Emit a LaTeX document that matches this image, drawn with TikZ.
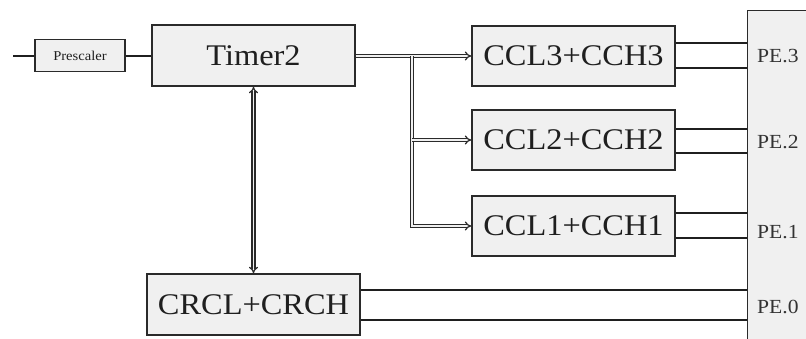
\documentclass[tikz,border=0pt]{standalone}
\usepackage{fontspec}
\setmainfont[FakeStretch=1.08]{Liberation Serif}
\usetikzlibrary{arrows.meta,calc}
\definecolor{boxfill}{HTML}{F0F0F0}
\definecolor{edge}{HTML}{2A2A2A}
\begin{document}
\begin{tikzpicture}[x=1pt,y=-1pt,
  blk/.style={draw=edge,line width=1.8pt,fill=boxfill,rectangle,inner sep=0pt,
    font=\fontsize{30}{32}\selectfont,text=black!88},
  wire/.style={draw=black!88,line width=2pt},
  dbl/.style={draw=edge,line width=1.2pt,double=boxfill,double distance=1.8pt},
  pelab/.style={anchor=west,font=\fontsize{20}{22}\selectfont,text=black!80,inner sep=0pt}]
\useasboundingbox (0,0) rectangle (806,338);
\node[blk,minimum width=90pt,minimum height=32pt,font=\fontsize{13.5}{15}\selectfont] (pre) at (80,55.5) {Prescaler};
\node[blk,minimum width=203pt,minimum height=61pt] (timer) at (253.5,55.5) {Timer2};
\node[blk,minimum width=203pt,minimum height=60pt] (ccl3) at (573.5,56) {CCL3+CCH3};
\node[blk,minimum width=203pt,minimum height=60pt] (ccl2) at (573.5,140) {CCL2+CCH2};
\node[blk,minimum width=203pt,minimum height=60pt] (ccl1) at (573.5,226) {CCL1+CCH1};
\node[blk,minimum width=213pt,minimum height=61pt] (crc) at (253.5,304.5) {CRCL+CRCH};
\node[draw=edge,line width=1.4pt,fill=boxfill,rectangle,minimum width=70pt,minimum height=345pt,inner sep=0pt,anchor=north west] (pe) at (747,10) {};
\node[pelab] (l3) at (757,56) {PE.3};
\node[pelab] (l2) at (757,142) {PE.2};
\node[pelab] (l1) at (757,232) {PE.1};
\node[pelab] (l0) at (757,307) {PE.0};
\coordinate (in) at (13,55.5);
\draw[wire] (in) -- (pre.west);
\draw[wire] (pre.east) -- (timer.west);
\coordinate (j) at (412,56);
\draw[dbl,-{Implies}] (timer.east |- j) -- (ccl3.west);
\draw[dbl,-{Implies}] (j) |- (ccl1.west);
\draw[dbl,-{Implies}] (j |- ccl2.west) -- (ccl2.west);
\draw[dbl,{Implies}-{Implies}] (timer.south) -- (crc.north);
\foreach \n/\a/\b in {ccl3/43/68, ccl2/129/153, ccl1/213/238, crc/290/320}{
  \draw[wire] (\n.east |- 0,\a) -- (pe.west |- 0,\a);
  \draw[wire] (\n.east |- 0,\b) -- (pe.west |- 0,\b);
}
\end{tikzpicture}
\end{document}
